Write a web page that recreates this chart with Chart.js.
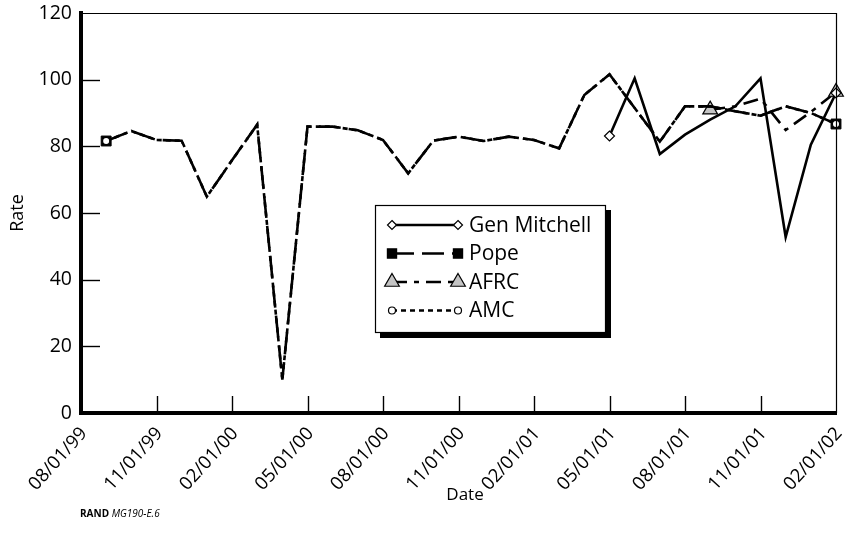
<!DOCTYPE html>
<html><head><meta charset="utf-8">
<script src="https://cdn.jsdelivr.net/npm/chart.js@4/dist/chart.umd.min.js"></script>
<style>html,body{margin:0;padding:0;background:#fff}#wrap{width:847px;height:542px;position:relative}canvas{display:block}</style>
</head><body><div id="wrap"><canvas id="c" width="847" height="542"></canvas></div>
<script>
// ---- data ----
const months = ["08/01/99","09/01/99","10/01/99","11/01/99","12/01/99","01/01/00","02/01/00","03/01/00","04/01/00","05/01/00","06/01/00","07/01/00","08/01/00","09/01/00","10/01/00","11/01/00","12/01/00","01/01/01","02/01/01","03/01/01","04/01/01","05/01/01","06/01/01","07/01/01","08/01/01","09/01/01","10/01/01","11/01/01","12/01/01","01/01/02","02/01/02"];
const tickLabels = ["08/01/99","11/01/99","02/01/00","05/01/00","08/01/00","11/01/00","02/01/01","05/01/01","08/01/01","11/01/01","02/01/02"];
const yTickValues = [0,20,40,60,80,100,120];
const seriesNames = ["Gen Mitchell","Pope","AFRC","AMC"];
const genMitchell = [null,null,null,null,null,null,null,null,null,null,null,null,null,null,null,null,null,null,null,null,null,83.1,100.4,77.7,83.5,88,92,100.4,52.8,80.5,96];
const pope = [null,81.6,84.6,81.9,81.7,64.9,75.8,86.5,10,85.9,85.9,84.8,81.9,71.9,81.7,82.9,81.6,82.9,81.9,79.4,95.4,101.6,91.5,81.4,92,92,90.5,89.2,92,90,86.7];
const afrc = [null,null,null,null,null,null,null,null,null,null,null,null,null,null,null,null,null,null,null,null,null,null,null,null,null,91,92,94.3,84.9,90.3,96.3];
const amc = [null,81.6,84.6,81.9,81.7,64.9,75.8,86.5,10,85.9,85.9,84.8,81.9,71.9,81.7,82.9,81.6,82.9,81.9,79.4,95.4,101.6,91.5,81.4,92,92,90.5,89.2,92,90,86.7];

const FONT = "'Open Sans', 'Noto Sans', sans-serif";

function endRadius(r) {
  return function(ctx) {
    const d = ctx.dataset.data;
    const i = ctx.dataIndex;
    if (d[i] == null) return 0;
    let first = d.findIndex(v => v != null);
    let last = d.length - 1; while (last >= 0 && d[last] == null) last--;
    return (i === first || i === last) ? r : 0;
  };
}

const styles = [
  {dash: [], point: 'rectRot', r: 5, fill: '#fff', bw: 1.2, order: 0},
  {dash: [22, 8], point: 'rect', r: 7, fill: '#000', bw: 1, order: 2},
  {dash: [15, 7, 5, 7], point: 'triangle', r: 8.5, fill: '#c4c4c4', bw: 1.2, order: 3},
  {dash: [5, 4], point: 'circle', r: 3.6, fill: '#fff', bw: 1.2, order: 1}
];
const seriesData = [genMitchell, pope, afrc, amc];

const datasets = seriesData.map((d, k) => ({
  label: seriesNames[k],
  data: d,
  borderColor: '#000',
  borderWidth: 2.6,
  borderDash: styles[k].dash,
  pointStyle: styles[k].point,
  pointRadius: endRadius(styles[k].r),
  pointHoverRadius: endRadius(styles[k].r),
  pointBackgroundColor: styles[k].fill,
  pointBorderColor: '#000',
  pointBorderWidth: styles[k].bw,
  tension: 0,
  fill: false,
  clip: false,
  order: styles[k].order
}));

function drawMarker(ctx, style, x, y, r, fill, bw) {
  ctx.save();
  ctx.setLineDash([]);
  ctx.fillStyle = fill; ctx.strokeStyle = '#000'; ctx.lineWidth = bw;
  ctx.beginPath();
  if (style === 'rectRot') {
    ctx.moveTo(x, y - r); ctx.lineTo(x + r, y); ctx.lineTo(x, y + r); ctx.lineTo(x - r, y); ctx.closePath();
  } else if (style === 'rect') {
    const s = r * Math.SQRT1_2; ctx.rect(x - s, y - s, 2 * s, 2 * s);
  } else if (style === 'triangle') {
    for (let j = 0; j < 3; j++) {
      const a = j * 2 * Math.PI / 3;
      const px = x + Math.sin(a) * r, py = y - Math.cos(a) * r;
      if (j === 0) ctx.moveTo(px, py); else ctx.lineTo(px, py);
    }
    ctx.closePath();
  } else {
    ctx.arc(x, y, r, 0, Math.PI * 2);
  }
  ctx.fill(); ctx.stroke();
  ctx.restore();
}

const decor = {
  id: 'decor',
  afterDatasetsDraw(chart) {
    const ctx = chart.ctx, a = chart.chartArea;
    const xs = chart.scales.x, ys = chart.scales.y;
    ctx.save();
    // thin top and right frame
    ctx.strokeStyle = '#000'; ctx.lineWidth = 1.2;
    ctx.beginPath();
    ctx.moveTo(a.left, a.top + 0.5); ctx.lineTo(a.right + 0.5, a.top + 0.5); ctx.lineTo(a.right + 0.5, a.bottom);
    ctx.stroke();
    // inward ticks
    ctx.lineWidth = 1.4;
    yTickValues.forEach(v => {
      if (v === ys.min || v === ys.max) return;
      const py = Math.round(ys.getPixelForValue(v)) + 0.5;
      ctx.beginPath(); ctx.moveTo(a.left, py); ctx.lineTo(a.left + 19, py); ctx.stroke();
    });
    tickLabels.forEach((l, i) => {
      if (i === 0 || i === tickLabels.length - 1) return;
      const px = Math.round(xs.getPixelForValue(months.indexOf(l))) + 0.5;
      ctx.beginPath(); ctx.moveTo(px, a.bottom); ctx.lineTo(px, a.bottom - 17); ctx.stroke();
    });
    // x axis title
    ctx.fillStyle = '#000';
    ctx.font = '17px ' + FONT; ctx.textAlign = 'center'; ctx.textBaseline = 'middle';
    ctx.fillText('Date', 465, 495);
    // legend
    const bx = 375, by = 205, bw = 231, bh = 128;
    ctx.fillStyle = '#000'; ctx.fillRect(bx + 5, by + 5, bw, bh);
    ctx.fillStyle = '#fff'; ctx.fillRect(bx, by, bw, bh);
    ctx.lineWidth = 1.2; ctx.strokeStyle = '#000';
    ctx.strokeRect(bx + 0.5, by + 0.5, bw - 1, bh - 1);
    const rowY = [225, 253.5, 282, 310.5];
    const lr = [4.5, 6.5, 8.5, 3.5];
    seriesNames.forEach((name, k) => {
      const y = rowY[k], x1 = 392, x2 = 458;
      ctx.save();
      ctx.lineWidth = 2.4; ctx.setLineDash(styles[k].dash);
      ctx.beginPath(); ctx.moveTo(x1, y); ctx.lineTo(x2, y); ctx.stroke();
      ctx.restore();
      drawMarker(ctx, styles[k].point, x1, y, lr[k], styles[k].fill, 1.2);
      drawMarker(ctx, styles[k].point, x2, y, lr[k], styles[k].fill, 1.2);
      ctx.fillStyle = '#000'; ctx.font = '21px ' + FONT; ctx.textBaseline = 'middle'; ctx.textAlign = 'left';
      ctx.fillText(name, 469, y + 1);
    });
    // footnote
    ctx.textBaseline = 'alphabetic'; ctx.textAlign = 'left';
    ctx.font = 'bold 10px ' + FONT;
    ctx.fillText('RAND', 80, 517);
    const w = ctx.measureText('RAND ').width;
    ctx.font = 'italic 10px ' + FONT;
    ctx.fillText('MG190-E.6', 80 + w, 517);
    ctx.restore();
  }
};

new Chart(document.getElementById('c'), {
  type: 'line',
  data: { labels: months, datasets },
  plugins: [decor],
  options: {
    responsive: false,
    devicePixelRatio: 1,
    animation: false,
    events: [],
    layout: { padding: { left: 7, right: 11, top: 13, bottom: 37 } },
    plugins: { legend: { display: false }, tooltip: { enabled: false } },
    scales: {
      x: {
        type: 'category',
        offset: false,
        afterFit(s) { s.height = 92; s.paddingLeft = 0; s.paddingRight = 0; },
        grid: { display: true, drawOnChartArea: false, drawTicks: false, color: 'rgba(0,0,0,0)' },
        border: { display: true, color: '#000', width: 4 },
        ticks: {
          autoSkip: false, maxRotation: 48, minRotation: 48, padding: 10, labelOffset: 3,
          color: '#000', font: { family: FONT, size: 18.5 },
          callback(v) { const l = this.getLabelForValue(v); return tickLabels.includes(l) ? l : ''; }
        },
        title: { display: false }
      },
      y: {
        min: 0, max: 120,
        afterFit(s) { s.width = 74; s.paddingTop = 0; s.paddingBottom = 0; },
        afterBuildTicks(s) { s.ticks = yTickValues.map(v => ({ value: v })); },
        grid: { display: true, drawOnChartArea: false, drawTicks: false, color: 'rgba(0,0,0,0)' },
        border: { display: true, color: '#000', width: 4 },
        ticks: { padding: 9, color: '#000', font: { family: FONT, size: 19.5 } },
        title: { display: true, text: 'Rate', color: '#000', font: { family: FONT, size: 18 }, padding: 0 }
      }
    }
  }
});
</script>
</body></html>
